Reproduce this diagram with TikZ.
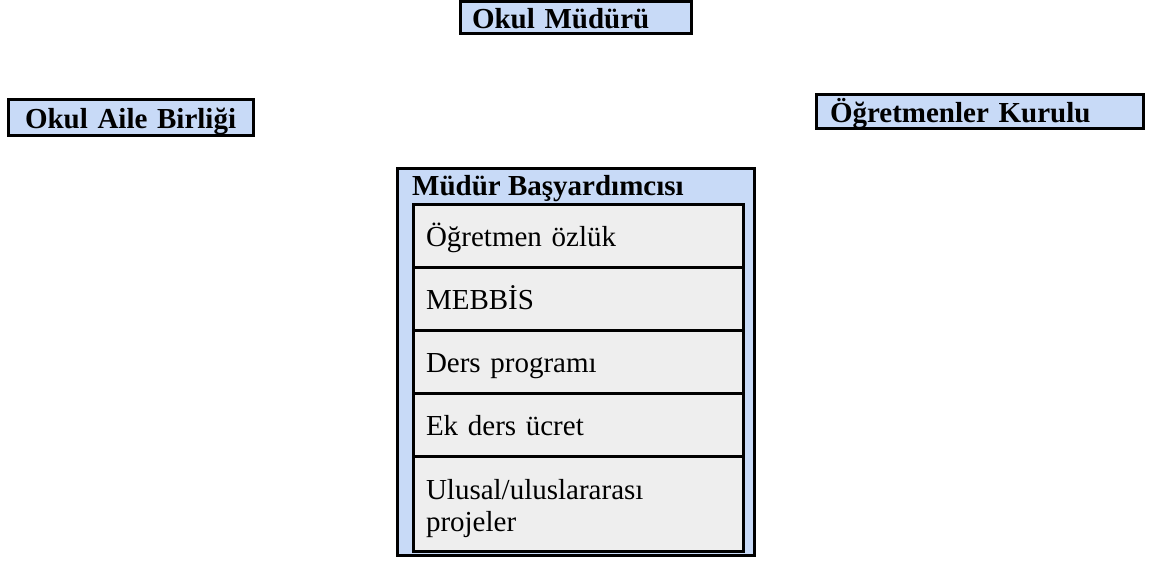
\documentclass[tikz,border=0pt]{standalone}
\usepackage{fontspec}
\setmainfont{Liberation Serif}
\usepackage{tikz}
\usetikzlibrary{positioning,calc}
\definecolor{acikmavi}{RGB}{200,218,247}
\definecolor{acikgri}{RGB}{238,238,238}
\tikzset{
    kutu/.style={
        draw, rectangle, line width=3pt, fill=acikmavi,
        font=\fontsize{29}{32}\selectfont\bfseries,
        inner ysep=0pt, outer sep=0pt,
        text height=21pt, text depth=0pt, align=left,
        anchor=north west
    }
}

\begin{document}
\begin{tikzpicture}[
      x=1pt, y=-1pt,
      every node/.style={font=\fontsize{29}{32}\selectfont},
  satir/.style={
    draw,
    line width=3pt,
    fill=acikgri,
    text width=305pt,
    inner xsep=12.5pt,
    inner ysep=0pt,
    outer sep=0pt,
    text height=21pt,
    text depth=0pt,
    minimum height=63pt,
    align=left
    }
      ]
\useasboundingbox (0,0) rectangle (1153,560);

\node[kutu, text width=208pt, inner xsep=11.5pt, minimum height=32pt]
	(mudur) at (460.5,1.5) {Okul Müdürü};
\node[kutu, text width=212pt, inner xsep=16.5pt, minimum height=36pt]
	(aile) at (8.5,99.5) {Okul Aile Birliği};
\node[kutu, text width=300pt, inner xsep=13.5pt, minimum height=34pt]
	(kurul) at (816.5,94.5) {Öğretmenler Kurulu};

% mudur basyardimcisi
\node[draw, line width=3pt, fill=acikmavi, outer sep=0pt, inner sep=0pt,
	minimum width=357pt, minimum height=387pt, anchor=north west]
	(yard) at (397.5,168.5) {};
\node[anchor=base west, inner sep=0pt, font=\fontsize{29}{32}\selectfont\bfseries]
	(baslik) at (412,195) {Müdür Başyardımcısı};

\node[satir, anchor=north west] (r1) at (413.5,204) {Öğretmen özlük};
\foreach \Yazi [count=\Sira from 2, evaluate=\Sira as \Onceki using int(\Sira-1)]
  in {MEBBİS, Ders programı, Ek ders ücret}
  \node[satir, below=0pt of r\Onceki] (r\Sira) {\Yazi};
\node[satir, below=0pt of r4, minimum height=95pt, text depth=30pt]
	(r5) {Ulusal/uluslararası\\projeler};

\end{tikzpicture}
\end{document}
